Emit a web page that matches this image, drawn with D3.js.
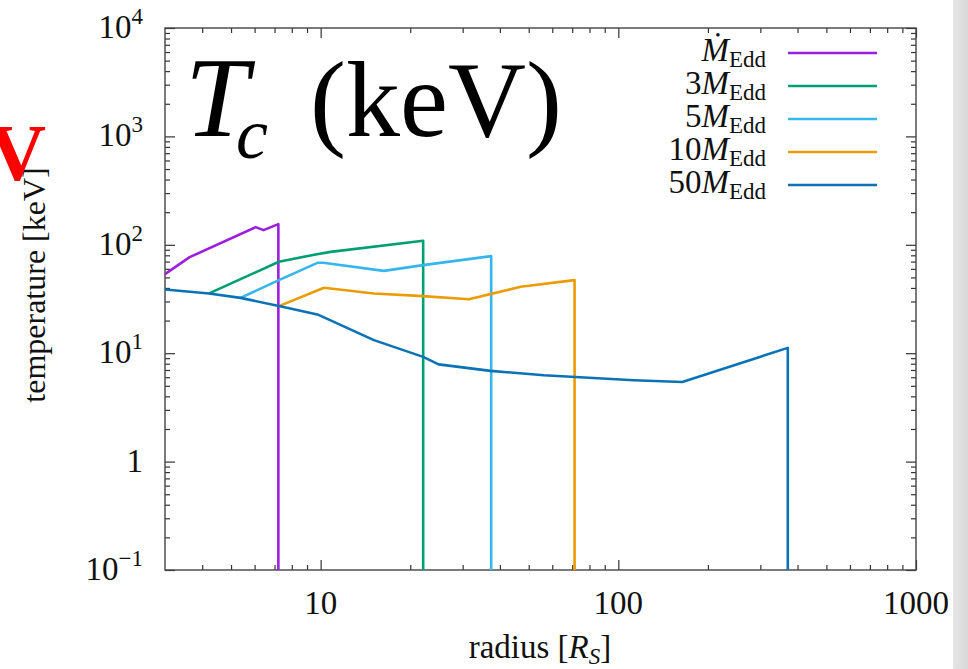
<!DOCTYPE html>
<html>
<head>
<meta charset="utf-8">
<script src="https://cdn.jsdelivr.net/npm/d3@7"></script>
<style>
  html, body { margin: 0; padding: 0; background: #fff; }
  svg { display: block; font-family: "Liberation Serif", "DejaVu Serif", serif; }
</style>
</head>
<body>
<svg id="chart" width="968" height="669"></svg>
<script>
// accretion rate multiples of Mdot_Edd, one curve each
const rateLabels = ["", "3", "5", "10", "50"];
const lineColors = ["#9b1fdb", "#009e73", "#35b6ec", "#eb9c05", "#0a72b5"];

// radius [R_S] and temperature [keV]; last point is the drop-off
const radius1 = [3.0, 3.63, 6.05, 6.43, 7.21, 7.21];
const temp1   = [53.6, 76.9, 145.5, 136.5, 155, 0.01];
const radius3 = [4.22, 7.24, 9.62, 10.8, 22.1, 22.1];
const temp3   = [35.6, 69.7, 81.5, 86.1, 108.9, 0.01];
const radius5 = [5.38, 7.24, 9.75, 10.2, 16.3, 22.1, 37.4, 37.4];
const temp5   = [32.4, 47.2, 68.2, 68.2, 57.5, 64.9, 78.6, 0.01];
const radius10 = [7.24, 10.26, 15.1, 22.1, 31.5, 47, 71.3, 71.3];
const temp10   = [27.2, 40.1, 35.6, 33.6, 31.5, 41, 47.2, 0.01];
const radius50 = [3.0, 4.22, 5.38, 7.24, 9.75, 15.1, 22.1, 24.9, 37.2, 56.2, 112.8, 164, 371, 371];
const temp50   = [38.7, 35.6, 32.4, 27.2, 22.8, 13.2, 9.25, 7.89, 6.87, 6.27, 5.63, 5.43, 11.2, 0.01];

const xTickLabels = ["10", "100", "1000"];
const yTickLabels = [["10", "4"], ["10", "3"], ["10", "2"], ["10", "1"], ["1", ""], ["10", "\u22121"]];

const allRadius = [radius1, radius3, radius5, radius10, radius50];
const allTemp = [temp1, temp3, temp5, temp10, temp50];

const margin = { left: 165, top: 28 };
const width = 751, height = 542;

const svg = d3.select("#chart");

// grey strip on the right edge of the slide
const grad = svg.append("defs").append("linearGradient").attr("id", "strip");
grad.append("stop").attr("offset", "0%").attr("stop-color", "#e6e6e6");
grad.append("stop").attr("offset", "100%").attr("stop-color", "#d8d8d8");
svg.append("rect").attr("x", 953).attr("y", 0).attr("width", 15).attr("height", 669).attr("fill", "url(#strip)");

svg.select("defs").append("clipPath").attr("id", "plotclip")
  .append("rect").attr("width", width).attr("height", height);

const g = svg.append("g").attr("transform", `translate(${margin.left},${margin.top})`);

const x = d3.scaleLog().domain([3, 1000]).range([0, width]);
const y = d3.scaleLog().domain([0.1, 1e4]).range([height, 0]);

const isMajor = v => Math.abs(Math.log10(v) - Math.round(Math.log10(v))) < 1e-9;
const xMajor = x.ticks().filter(isMajor);
const xMinor = x.ticks().filter(v => !isMajor(v) && v > 3);
const yMajor = y.ticks().filter(isMajor);
const yMinor = y.ticks().filter(v => !isMajor(v));

function drawAxis(axisFn, scale, values, size, transform) {
  const a = g.append("g").attr("transform", transform)
    .call(axisFn(scale).tickValues(values).tickSizeInner(-size).tickSizeOuter(0).tickFormat(""));
  a.selectAll(".domain").remove();
  a.selectAll("line").attr("stroke", "#333").attr("stroke-width", 1.2);
}
// mirrored inward ticks on all four sides
drawAxis(d3.axisBottom, x, xMajor, 10, `translate(0,${height})`);
drawAxis(d3.axisBottom, x, xMinor, 5, `translate(0,${height})`);
drawAxis(d3.axisTop, x, xMajor, 10, "translate(0,0)");
drawAxis(d3.axisTop, x, xMinor, 5, "translate(0,0)");
drawAxis(d3.axisLeft, y, yMajor, 10, "translate(0,0)");
drawAxis(d3.axisLeft, y, yMinor, 5, "translate(0,0)");
drawAxis(d3.axisRight, y, yMajor, 10, `translate(${width},0)`);
drawAxis(d3.axisRight, y, yMinor, 5, `translate(${width},0)`);

g.append("rect").attr("width", width).attr("height", height)
  .attr("fill", "none").attr("stroke", "#444").attr("stroke-width", 1.4);

// x tick labels
g.append("g").selectAll("text")
  .data(xMajor)
  .join("text")
  .attr("x", d => x(d))
  .attr("y", height + 44)
  .attr("text-anchor", "middle")
  .attr("font-size", 33)
  .attr("fill", "#111")
  .text((d, i) => xTickLabels[i]);

// y tick labels with powers
const yLab = g.append("g").selectAll("text")
  .data(yMajor.slice().reverse())
  .join("text")
  .attr("x", -22)
  .attr("y", d => y(d) + 10)
  .attr("text-anchor", "end")
  .attr("font-size", 33)
  .attr("fill", "#111");
yLab.append("tspan").text((d, i) => yTickLabels[i][0]);
yLab.append("tspan").attr("font-size", 23).attr("dy", -14).text((d, i) => yTickLabels[i][1]);

// curves
const line = d3.line().x(d => x(d[0])).y(d => y(d[1]));
g.append("g").attr("clip-path", "url(#plotclip)")
  .selectAll("path")
  .data(allRadius.map((r, i) => r.map((v, j) => [v, allTemp[i][j]])))
  .join("path")
  .attr("d", line)
  .attr("fill", "none")
  .attr("stroke", (d, i) => lineColors[i])
  .attr("stroke-width", 2.6)
  .attr("stroke-linejoin", "round");

// legend
const legend = g.append("g").selectAll("g")
  .data(rateLabels)
  .join("g")
  .attr("transform", (d, i) => `translate(0,${25 + i * 33})`);
legend.append("line")
  .attr("x1", 623).attr("x2", 712)
  .attr("stroke", (d, i) => lineColors[i]).attr("stroke-width", 2.6);
const legText = legend.append("text")
  .attr("x", 601).attr("y", 8)
  .attr("text-anchor", "end")
  .attr("font-size", 33)
  .attr("fill", "#111");
legText.append("tspan").text(d => d);
legText.append("tspan").attr("font-style", "italic").text(d => d === "" ? "\u1E40" : "M");
legText.append("tspan").attr("font-size", 23).attr("dy", 6).text("Edd");

// axis titles
svg.append("text")
  .attr("x", 540).attr("y", 658)
  .attr("text-anchor", "middle")
  .attr("font-size", 33)
  .attr("fill", "#111")
  .call(t => t.append("tspan").text("radius ["))
  .call(t => t.append("tspan").attr("font-style", "italic").text("R"))
  .call(t => t.append("tspan").attr("font-style", "italic").attr("font-size", 23).attr("dy", 6).text("S"))
  .call(t => t.append("tspan").attr("dy", -6).text("]"));

svg.append("text")
  .attr("transform", "translate(45,285) rotate(-90)")
  .attr("text-anchor", "middle")
  .attr("font-size", 32)
  .attr("fill", "#111")
  .text("temperature [keV]");

// slide overlay: big title and clipped red letter
svg.append("text")
  .attr("x", 185).attr("y", 136)
  .attr("font-size", 114).attr("font-style", "italic")
  .text("T");
svg.append("text")
  .attr("x", 236).attr("y", 158)
  .attr("font-size", 72).attr("font-style", "italic")
  .text("c");
svg.append("text")
  .attr("x", 310).attr("y", 136)
  .attr("font-size", 108)
  .text("(keV)");
svg.append("text")
  .attr("x", 46).attr("y", 180)
  .attr("text-anchor", "end")
  .attr("font-size", 80).attr("font-weight", "bold")
  .attr("fill", "#ff0000")
  .text("V");
</script>
</body>
</html>
